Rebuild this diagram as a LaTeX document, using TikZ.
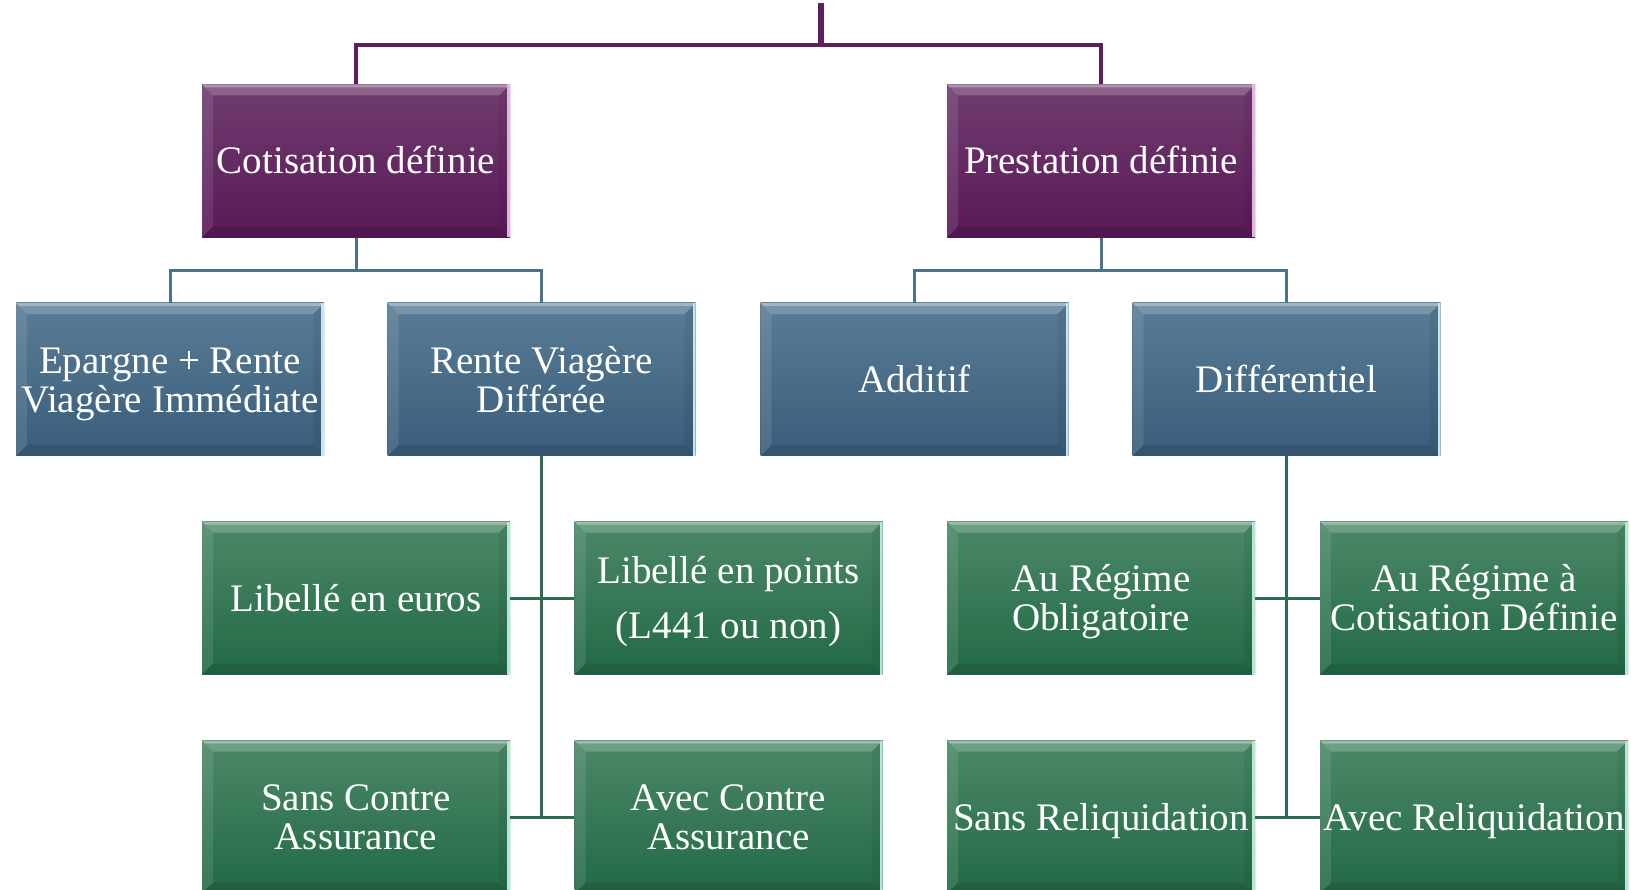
\documentclass[tikz,border=0pt]{standalone}
\usepackage{fontspec}
\setmainfont{Liberation Serif}
\usetikzlibrary{calc}

\definecolor{purTop}{HTML}{6F3D6E}
\definecolor{purBot}{HTML}{5A1858}
\definecolor{purEdge}{HTML}{E2B4E0}
\definecolor{bluTop}{HTML}{5A7C95}
\definecolor{bluBot}{HTML}{395D7B}
\definecolor{bluEdge}{HTML}{C4E6F2}
\definecolor{grnTop}{HTML}{4C8868}
\definecolor{grnBot}{HTML}{226946}
\definecolor{grnEdge}{HTML}{B4E8D0}
\definecolor{purLine}{HTML}{5E1F5E}
\definecolor{bluLine}{HTML}{4C7189}
\definecolor{grnLine}{HTML}{2D6D4E}

\newcommand\tilefont{\fontsize{39}{39}\selectfont}
% fixed height of the first line and depth of the last one,
% so every label sits at the same place in its tile
\newcommand\lowstrut{\rule{0pt}{38.5pt}}
\newcommand\lowdepth{\rule[-12pt]{0pt}{12pt}}
\newcommand\onestrut{\rule[-9pt]{0pt}{44pt}}

% bevelled edges of a tile; #1 is the light colour of the right edge
\newcommand\boxbevel[1]{%
  \coordinate (bnw) at (path picture bounding box.north west);
  \coordinate (bne) at (path picture bounding box.north east);
  \coordinate (bsw) at (path picture bounding box.south west);
  \coordinate (bse) at (path picture bounding box.south east);
  \fill[white,opacity=0.20] (bnw) -- (bne) -- ([xshift=-11pt,yshift=-11pt]bne) -- ([xshift=11pt,yshift=-11pt]bnw) -- cycle;
  \fill[white,opacity=0.30] (bnw) -- (bne) -- ([xshift=-3pt,yshift=-3pt]bne) -- ([xshift=3pt,yshift=-3pt]bnw) -- cycle;
  \fill[white,opacity=0.10] (bnw) -- ([xshift=11pt,yshift=-11pt]bnw) -- ([xshift=11pt,yshift=11pt]bsw) -- (bsw) -- cycle;
  \fill[black,opacity=0.10] (bsw) -- ([xshift=11pt,yshift=11pt]bsw) -- ([xshift=-11pt,yshift=11pt]bse) -- (bse) -- cycle;
  \fill[black,opacity=0.06] (bne) -- ([xshift=-11pt,yshift=-11pt]bne) -- ([xshift=-11pt,yshift=11pt]bse) -- (bse) -- cycle;
  \fill[#1] ([xshift=-3pt]bne) rectangle (bse);
}

\tikzset{
  tile/.style={rectangle, minimum width=308pt, minimum height=153pt,
    inner sep=0pt, align=center, text=white, font=\tilefont},
  purtile/.style={tile, top color=purTop, bottom color=purBot,
    path picture={\boxbevel{purEdge}}},
  blutile/.style={tile, top color=bluTop, bottom color=bluBot,
    path picture={\boxbevel{bluEdge}}},
  grntile/.style={tile, top color=grnTop, bottom color=grnBot,
    path picture={\boxbevel{grnEdge}}},
  purlink/.style={draw=purLine, line width=4pt},
  blulink/.style={draw=bluLine, line width=3pt},
  grnlink/.style={draw=grnLine, line width=3pt},
}

\begin{document}
\begin{tikzpicture}[x=1pt,y=-1pt]
\useasboundingbox (0,0) rectangle (1631,890);
\clip (0,0) rectangle (1631,890);

% first level
\node[purtile] (cd) at (356,161) {\onestrut Cotisation définie};
\node[purtile] (pd) at (1101,161) {\onestrut Prestation définie};

% second level
\node[blutile] (ep) at (170,379.5) {\lowstrut Epargne + Rente\\Viagère Immédiate\lowdepth};
\node[blutile] (rv) at (541.5,379.5) {\lowstrut Rente Viagère\\Différée\lowdepth};
\node[blutile] (ad) at (914.5,379.5) {\onestrut Additif};
\node[blutile] (di) at (1286.5,379.5) {\onestrut Différentiel};

% third level
\node[grntile] (le) at (356,598) {\onestrut Libellé en euros};
\node[grntile] (lp) at (728.5,598) {\lowstrut Libellé en points\\[16pt](L441 ou non)\lowdepth};
\node[grntile] (ro) at (1101,598) {\lowstrut Au Régime\\Obligatoire\lowdepth};
\node[grntile] (rc) at (1474,598) {\lowstrut Au Régime à\\Cotisation Définie\lowdepth};
\node[grntile] (sc) at (356,817) {\lowstrut Sans Contre\\Assurance\lowdepth};
\node[grntile] (ac) at (728.5,817) {\lowstrut Avec Contre\\Assurance\lowdepth};
\node[grntile] (sr) at (1101,817) {\onestrut Sans Reliquidation};
\node[grntile] (ar) at (1474,817) {\onestrut Avec Reliquidation};

% root stub and top bracket
\coordinate (root) at (821,3);
\coordinate (rootj) at (821,45);
\draw[draw=purLine, line width=5.5pt] (root) -- (rootj);
\draw[purlink] (cd.north) |- (rootj) -| (pd.north);

% brackets under the first level
\path (cd.south) -- ++(0,33) coordinate (cdj);
\path (pd.south) -- ++(0,33) coordinate (pdj);
\draw[blulink] (cd.south) -- (cdj);
\draw[blulink] (ep.north) |- (cdj) -| (rv.north);
\draw[blulink] (pd.south) -- (pdj);
\draw[blulink] (ad.north) |- (pdj) -| (di.north);

% spines of the third level
\draw[grnlink] (rv.south) -- (rv.south |- sc.east);
\draw[grnlink] (le.east) -- (lp.west);
\draw[grnlink] (sc.east) -- (ac.west);
\draw[grnlink] (di.south) -- (di.south |- sr.east);
\draw[grnlink] (ro.east) -- (rc.west);
\draw[grnlink] (sr.east) -- (ar.west);
\end{tikzpicture}
\end{document}
